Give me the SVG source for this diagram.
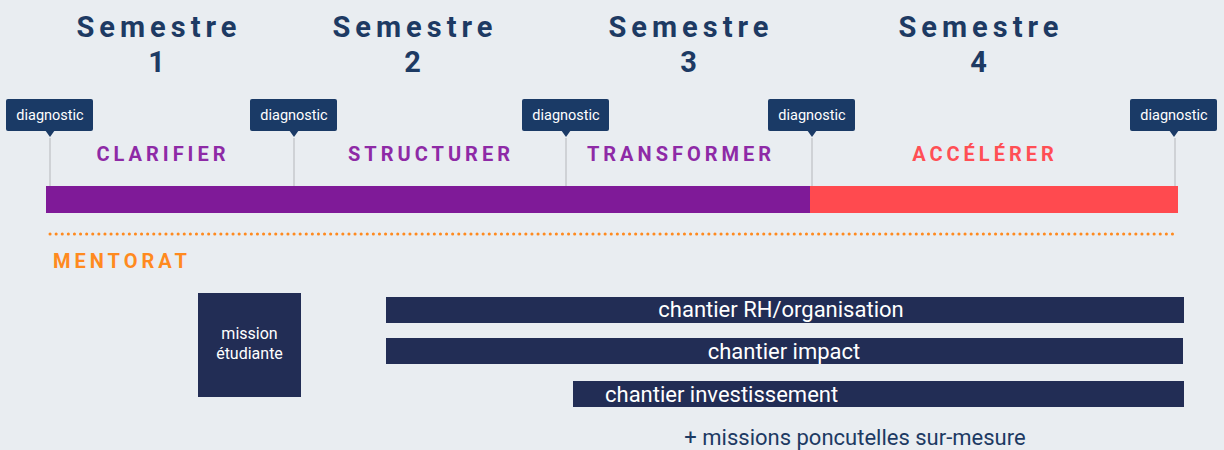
<svg xmlns="http://www.w3.org/2000/svg" width="1224" height="450" viewBox="0 0 1224 450">
<style>
.sem{font-family:Roboto,"Liberation Sans",sans-serif;font-weight:700;font-size:29px;letter-spacing:5px;fill:#1d3a63;text-anchor:middle}
.diag text{font-family:Roboto,"Liberation Sans",sans-serif;font-size:14.5px;fill:#fff;text-anchor:middle}
.tick{stroke:#cfd2d6;stroke-width:2}
.phase{font-family:Roboto,"Liberation Sans",sans-serif;font-weight:700;font-size:20px;letter-spacing:4px;text-anchor:middle}
.box{fill:#222d55}
.btxt{font-family:Roboto,"Liberation Sans",sans-serif;font-size:22px;fill:#fff;text-anchor:middle}
</style>
<defs>
<g id="pin"><rect x="-44" y="0" width="87" height="32" rx="2"/><path d="M-5 31 L5 31 L0 38 Z"/></g>
</defs>
<rect width="1224" height="450" fill="#e9edf1"/>
<g id="semestres">
<text class="sem" x="159" y="37">Semestre</text><text class="sem" x="159" y="72">1</text>
<text class="sem" x="415" y="37">Semestre</text><text class="sem" x="415" y="72">2</text>
<text class="sem" x="691" y="37">Semestre</text><text class="sem" x="691" y="72">3</text>
<text class="sem" x="981" y="37">Semestre</text><text class="sem" x="981" y="72">4</text>
</g>
<g id="connectors">
<line class="tick" x1="50" y1="138" x2="50" y2="186"/>
<line class="tick" x1="294" y1="138" x2="294" y2="186"/>
<line class="tick" x1="566" y1="138" x2="566" y2="186"/>
<line class="tick" x1="812" y1="138" x2="812" y2="186"/>
<line class="tick" x1="1175" y1="138" x2="1175" y2="186"/>
<line x1="50" y1="234" x2="1177" y2="234" stroke="#ff8a1f" stroke-width="3" stroke-dasharray="0.1 6" stroke-linecap="round"/>
</g>
<g id="diag1" class="diag"><use href="#pin" x="50" y="99" fill="#1a3a66"/><text x="50" y="120">diagnostic</text></g>
<g id="diag2" class="diag"><use href="#pin" x="294" y="99" fill="#1a3a66"/><text x="294" y="120">diagnostic</text></g>
<g id="diag3" class="diag"><use href="#pin" x="566" y="99" fill="#1a3a66"/><text x="566" y="120">diagnostic</text></g>
<g id="diag4" class="diag"><use href="#pin" x="812" y="99" fill="#1a3a66"/><text x="812" y="120">diagnostic</text></g>
<g id="diag5" class="diag"><use href="#pin" x="1174" y="99" fill="#1a3a66"/><text x="1174" y="120">diagnostic</text></g>
<g id="phases">
<text class="phase" x="163" y="161" fill="#8e2aa6">CLARIFIER</text>
<text class="phase" x="431" y="161" fill="#8e2aa6">STRUCTURER</text>
<text class="phase" x="681" y="161" fill="#8e2aa6">TRANSFORMER</text>
<text class="phase" x="985" y="161" fill="#ff4f55">ACCÉLÉRER</text>
</g>
<g id="bar">
<rect x="46" y="186" width="765" height="27" fill="#7f1a98"/>
<rect x="810" y="186" width="368" height="27" fill="#ff4a4f"/>
</g>
<g id="mentorat"><text x="53" y="268" class="phase" style="text-anchor:start" fill="#ff8a1f">MENTORAT</text></g>
<g id="mission"><rect class="box" x="198" y="293" width="103" height="104"/>
<text x="249.5" y="339" class="btxt" style="font-size:16px">mission</text>
<text x="249.5" y="359" class="btxt" style="font-size:16px">étudiante</text></g>
<g id="rh"><rect class="box" x="386" y="297" width="798" height="26"/><text class="btxt" x="781" y="317">chantier RH/organisation</text></g>
<g id="impact"><rect class="box" x="386" y="338" width="797" height="26"/><text class="btxt" x="784" y="359">chantier impact</text></g>
<g id="invest"><rect class="box" x="573" y="381" width="611" height="26"/><text class="btxt" x="605" y="402" style="text-anchor:start">chantier investissement</text></g>
<g id="extra"><text x="855" y="445" style="font-family:Roboto,'Liberation Sans',sans-serif;font-size:22px;fill:#1d3a63;text-anchor:middle">+ missions poncutelles sur-mesure</text></g>
</svg>
